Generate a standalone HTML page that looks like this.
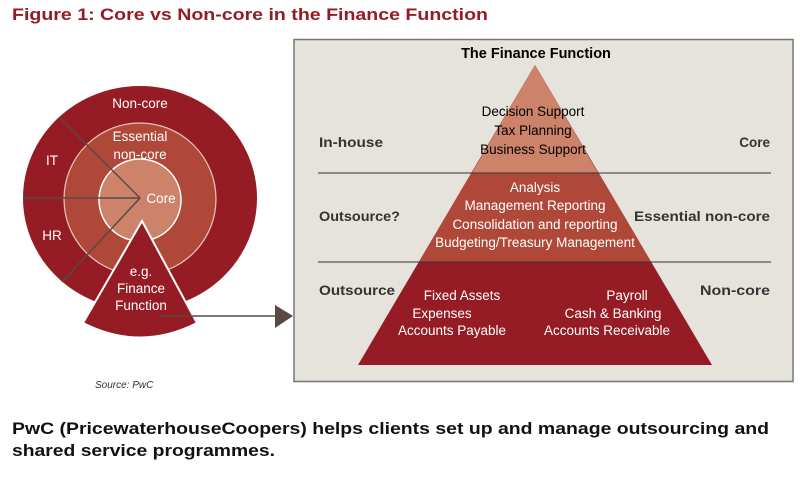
<!DOCTYPE html>
<html><head><style>
body{margin:0;background:#fff;}
svg{display:block;}
</style></head><body>
<svg width="800" height="486" xmlns="http://www.w3.org/2000/svg" font-family="Liberation Sans, sans-serif">
<text x="12" y="20" font-size="17" font-weight="bold" fill="#951c24" textLength="476" lengthAdjust="spacingAndGlyphs">Figure 1: Core vs Non-core in the Finance Function</text>

<ellipse cx="140" cy="198" rx="117" ry="112" fill="#951c24"/>
<circle cx="140" cy="199" r="76" fill="#b0483a" stroke="#e8c8bc" stroke-width="1.2"/>
<circle cx="140" cy="200" r="41" fill="#cd826a" stroke="#fff" stroke-width="1.5"/>
<g stroke="#5a4844" stroke-width="1.5">
<line x1="140" y1="198" x2="60" y2="118"/>
<line x1="140" y1="198" x2="23" y2="198"/>
<line x1="140" y1="198" x2="62" y2="282"/>
</g>
<path d="M142,221 L197,323 Q140,352 83,323 Z" fill="#951c24" stroke="#fff" stroke-width="2"/>
<g fill="#fff" font-size="13.5" text-anchor="middle">
<text x="140" y="108">Non-core</text>
<text x="140" y="141">Essential</text>
<text x="140" y="159">non-core</text>
<text x="161" y="203">Core</text>
<text x="52" y="165">IT</text>
<text x="52" y="240">HR</text>
<text x="141" y="276">e.g.</text>
<text x="141" y="293">Finance</text>
<text x="141" y="310">Function</text>
</g>
<line x1="160" y1="316" x2="276" y2="316" stroke="#5a4844" stroke-width="1.5"/>
<polygon points="275,305 293,316 275,328" fill="#5a4844"/>
<text x="95" y="388" font-size="10" font-style="italic" fill="#333">Source: PwC</text>

<rect x="294" y="39.5" width="499" height="342" fill="#e6e2dc" stroke="#777" stroke-width="1.5"/>
<text x="536" y="58" font-size="14.5" font-weight="bold" text-anchor="middle" fill="#000">The Finance Function</text>
<polygon points="535,65 712,365 358,365" fill="#951c24"/>
<polygon points="535,65 651,262 419,262" fill="#b0483a"/>
<polygon points="535,65 598,173 472,173" fill="#cd826a"/>
<line x1="318" y1="173" x2="771" y2="173" stroke="#333" stroke-width="1"/>
<line x1="318" y1="262" x2="771" y2="262" stroke="#333" stroke-width="1"/>
<g font-size="13.5" text-anchor="middle" fill="#000">
<text x="533" y="116">Decision Support</text>
<text x="533" y="135">Tax Planning</text>
<text x="533" y="154">Business Support</text>
</g>
<g font-size="13.5" text-anchor="middle" fill="#fff">
<text x="535" y="192">Analysis</text>
<text x="535" y="210">Management Reporting</text>
<text x="535" y="229">Consolidation and reporting</text>
<text x="535" y="247">Budgeting/Treasury Management</text>
<text x="462" y="300">Fixed Assets</text>
<text x="442" y="318">Expenses</text>
<text x="452" y="335">Accounts Payable</text>
<text x="627" y="300">Payroll</text>
<text x="613" y="318">Cash &amp; Banking</text>
<text x="607" y="335">Accounts Receivable</text>
</g>
<g font-size="13.5" font-weight="bold" fill="#333">
<text x="319" y="147" textLength="64" lengthAdjust="spacingAndGlyphs">In-house</text>
<text x="319" y="221" textLength="81" lengthAdjust="spacingAndGlyphs">Outsource?</text>
<text x="319" y="295" textLength="76" lengthAdjust="spacingAndGlyphs">Outsource</text>
<text x="770" y="147" text-anchor="end">Core</text>
<text x="770" y="221" text-anchor="end" textLength="136" lengthAdjust="spacingAndGlyphs">Essential non-core</text>
<text x="770" y="295" text-anchor="end" textLength="70" lengthAdjust="spacingAndGlyphs">Non-core</text>
</g>

<text x="12" y="434" font-size="17" font-weight="bold" fill="#111" textLength="757" lengthAdjust="spacingAndGlyphs">PwC (PricewaterhouseCoopers) helps clients set up and manage outsourcing and</text>
<text x="12" y="456" font-size="17" font-weight="bold" fill="#111" textLength="263" lengthAdjust="spacingAndGlyphs">shared service programmes.</text>
</svg>
</body></html>
